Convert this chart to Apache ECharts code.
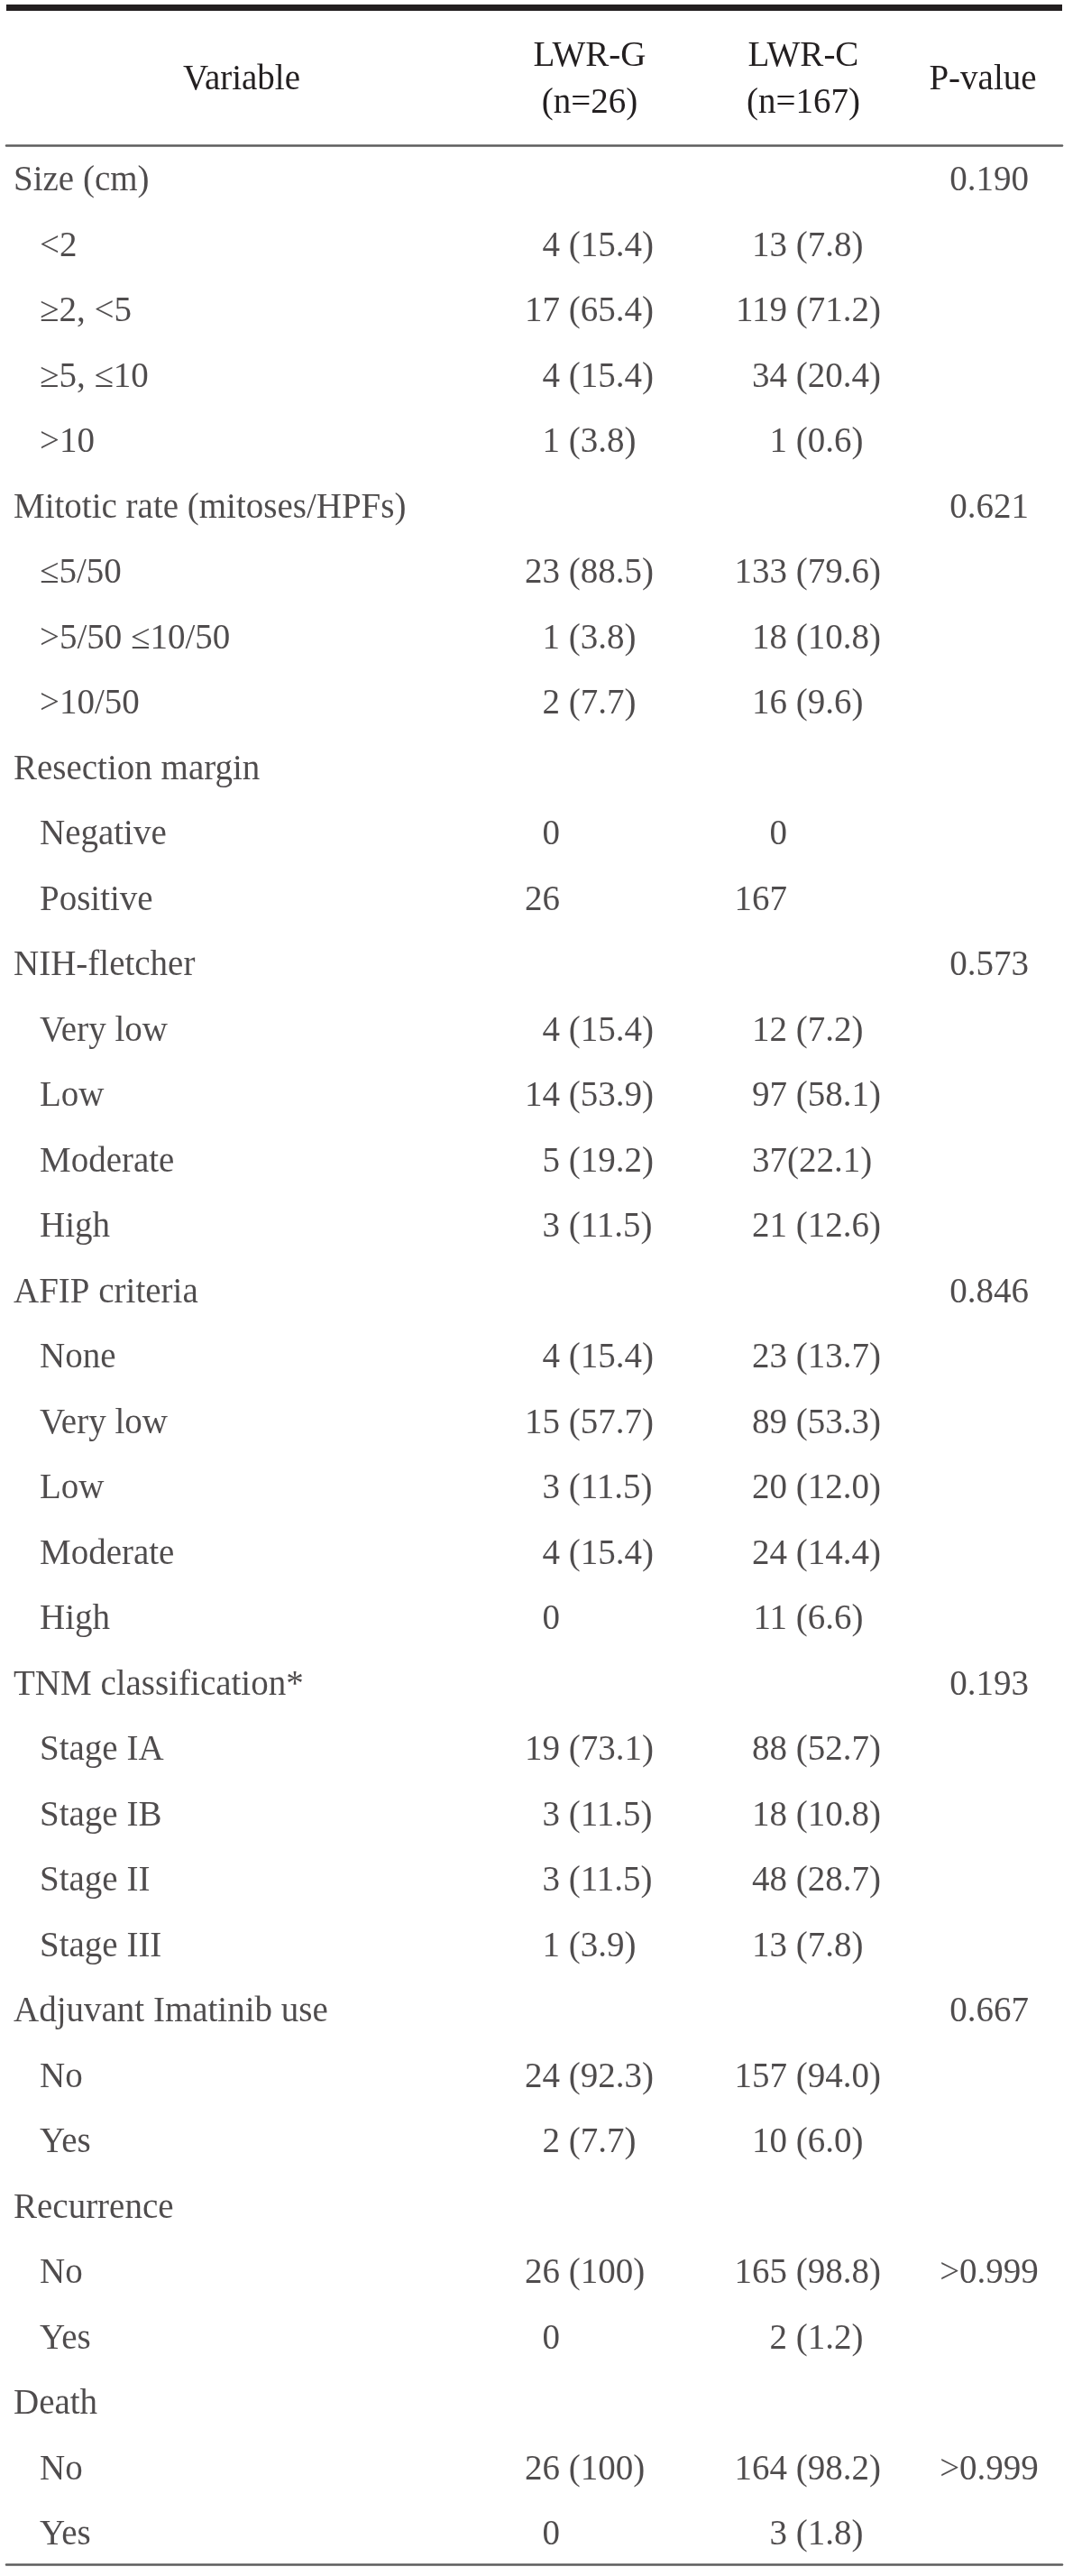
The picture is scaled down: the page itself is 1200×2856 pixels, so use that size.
<!DOCTYPE html>
<html>
<head>
<meta charset="utf-8">
<script src="https://cdn.jsdelivr.net/npm/echarts@6/dist/echarts.min.js"></script>
<style>
  html, body { margin: 0; padding: 0; background: #ffffff; }
  #chart { width: 1200px; height: 2856px; }
</style>
</head>
<body>
<div id="chart"></div>
<script>
// ---------- data ----------
const headerVariable = 'Variable';
const headerG = ['LWR-G', '(n=26)'];
const headerC = ['LWR-C', '(n=167)'];
const headerP = 'P-value';

const rowLabels = [
  'Size (cm)', '<2', '≥2, <5', '≥5, ≤10', '>10',
  'Mitotic rate (mitoses/HPFs)', '≤5/50', '>5/50 ≤10/50', '>10/50',
  'Resection margin', 'Negative', 'Positive',
  'NIH-fletcher', 'Very low', 'Low', 'Moderate', 'High',
  'AFIP criteria', 'None', 'Very low', 'Low', 'Moderate', 'High',
  'TNM classification*', 'Stage IA', 'Stage IB', 'Stage II', 'Stage III',
  'Adjuvant Imatinib use', 'No', 'Yes',
  'Recurrence', 'No', 'Yes',
  'Death', 'No', 'Yes'
];
const rowLevel = [
  0, 1, 1, 1, 1,
  0, 1, 1, 1,
  0, 1, 1,
  0, 1, 1, 1, 1,
  0, 1, 1, 1, 1, 1,
  0, 1, 1, 1, 1,
  0, 1, 1,
  0, 1, 1,
  0, 1, 1
];
const lwrG = [
  '', '4 (15.4)', '17 (65.4)', '4 (15.4)', '1 (3.8)',
  '', '23 (88.5)', '1 (3.8)', '2 (7.7)',
  '', '0', '26',
  '', '4 (15.4)', '14 (53.9)', '5 (19.2)', '3 (11.5)',
  '', '4 (15.4)', '15 (57.7)', '3 (11.5)', '4 (15.4)', '0',
  '', '19 (73.1)', '3 (11.5)', '3 (11.5)', '1 (3.9)',
  '', '24 (92.3)', '2 (7.7)',
  '', '26 (100)', '0',
  '', '26 (100)', '0'
];
const lwrC = [
  '', '13 (7.8)', '119 (71.2)', '34 (20.4)', '1 (0.6)',
  '', '133 (79.6)', '18 (10.8)', '16 (9.6)',
  '', '0', '167',
  '', '12 (7.2)', '97 (58.1)', '37(22.1)', '21 (12.6)',
  '', '23 (13.7)', '89 (53.3)', '20 (12.0)', '24 (14.4)', '11 (6.6)',
  '', '88 (52.7)', '18 (10.8)', '48 (28.7)', '13 (7.8)',
  '', '157 (94.0)', '10 (6.0)',
  '', '165 (98.8)', '2 (1.2)',
  '', '164 (98.2)', '3 (1.8)'
];
const pValues = [
  '0.190', '', '', '', '',
  '0.621', '', '', '',
  '', '', '',
  '0.573', '', '', '', '',
  '0.846', '', '', '', '', '',
  '0.193', '', '', '', '',
  '0.667', '', '',
  '', '>0.999', '',
  '', '>0.999', ''
];

// ---------- layout / style ----------
const FONT = 'Liberation Serif';
const FS = 39;
const INK = '#231f20';
const RULE = '#5d5d5d';
const X_LEFT = 7, X_RIGHT = 1178;
const COL = { lab0: 15, lab1: 44, g: 621, c: 873, p: 1097 };
const DY = 4; // baseline nudge for the serif face

function splitCell(s) {
  const m = s.match(/^(\S+?)(\s*\(.*\))?$/);
  return m ? [m[1], m[2] || ''] : [s, ''];
}

function textSeries(points, pos) {
  return {
    type: 'scatter',
    symbolSize: 0,
    silent: true,
    itemStyle: { color: 'rgba(0,0,0,0)' },
    data: points.map(p => ({ value: [p[0], p[1]], txt: p[2] })),
    label: {
      show: true,
      position: pos,
      distance: 0,
      offset: [0, DY],
      color: INK,
      fontFamily: FONT,
      fontSize: FS,
      formatter: (d) => d.data.txt
    },
    z: 10
  };
}

const labelPts = rowLabels.map((t, i) => [rowLevel[i] ? COL.lab1 : COL.lab0, i, t]);
const gNum = [], gRest = [], cNum = [], cRest = [], pPts = [];
lwrG.forEach((s, i) => { if (s) { const [a, b] = splitCell(s); gNum.push([COL.g, i, a]); if (b) gRest.push([COL.g, i, b]); } });
lwrC.forEach((s, i) => { if (s) { const [a, b] = splitCell(s); cNum.push([COL.c, i, a]); if (b) cRest.push([COL.c, i, b]); } });
pValues.forEach((s, i) => { if (s) pPts.push([COL.p, i, s]); });

const chart = echarts.init(document.getElementById('chart'), null, { renderer: 'canvas' });

function hText(text, x, y) {
  return {
    type: 'text',
    silent: true,
    style: {
      text: text, x: x, y: y,
      fill: INK,
      font: FS + 'px "' + FONT + '"',
      align: 'center', verticalAlign: 'middle',
      textAlign: 'center', textVerticalAlign: 'middle'
    },
    z: 10
  };
}

chart.setOption({
  animation: false,
  backgroundColor: '#ffffff',
  grid: { left: X_LEFT, right: 1200 - X_RIGHT, top: 161, bottom: 13, containLabel: false },
  xAxis: [
    { type: 'value', min: X_LEFT, max: X_RIGHT, position: 'bottom',
      axisLine: { show: true, lineStyle: { color: RULE, width: 2.5 } },
      axisTick: { show: false }, axisLabel: { show: false }, splitLine: { show: false } },
    { type: 'value', min: X_LEFT, max: X_RIGHT, position: 'top',
      axisLine: { show: true, lineStyle: { color: RULE, width: 2.5 } },
      axisTick: { show: false }, axisLabel: { show: false }, splitLine: { show: false } }
  ],
  yAxis: {
    type: 'category', inverse: true, boundaryGap: true,
    data: rowLabels.map((_, i) => i),
    show: false
  },
  graphic: [
    { type: 'rect', silent: true, shape: { x: X_LEFT, y: 5, width: X_RIGHT - X_LEFT, height: 7 }, style: { fill: INK } },
    hText(headerVariable, 268, 89),
    hText(headerG[0], 654, 63),
    hText(headerG[1], 654, 115),
    hText(headerC[0], 891, 63),
    hText(headerC[1], 891, 115),
    hText(headerP, 1090, 89)
  ],
  series: [
    textSeries(labelPts, 'right'),
    textSeries(gNum, 'left'),
    textSeries(gRest, 'right'),
    textSeries(cNum, 'left'),
    textSeries(cRest, 'right'),
    textSeries(pPts, 'inside')
  ]
});
</script>
</body>
</html>
